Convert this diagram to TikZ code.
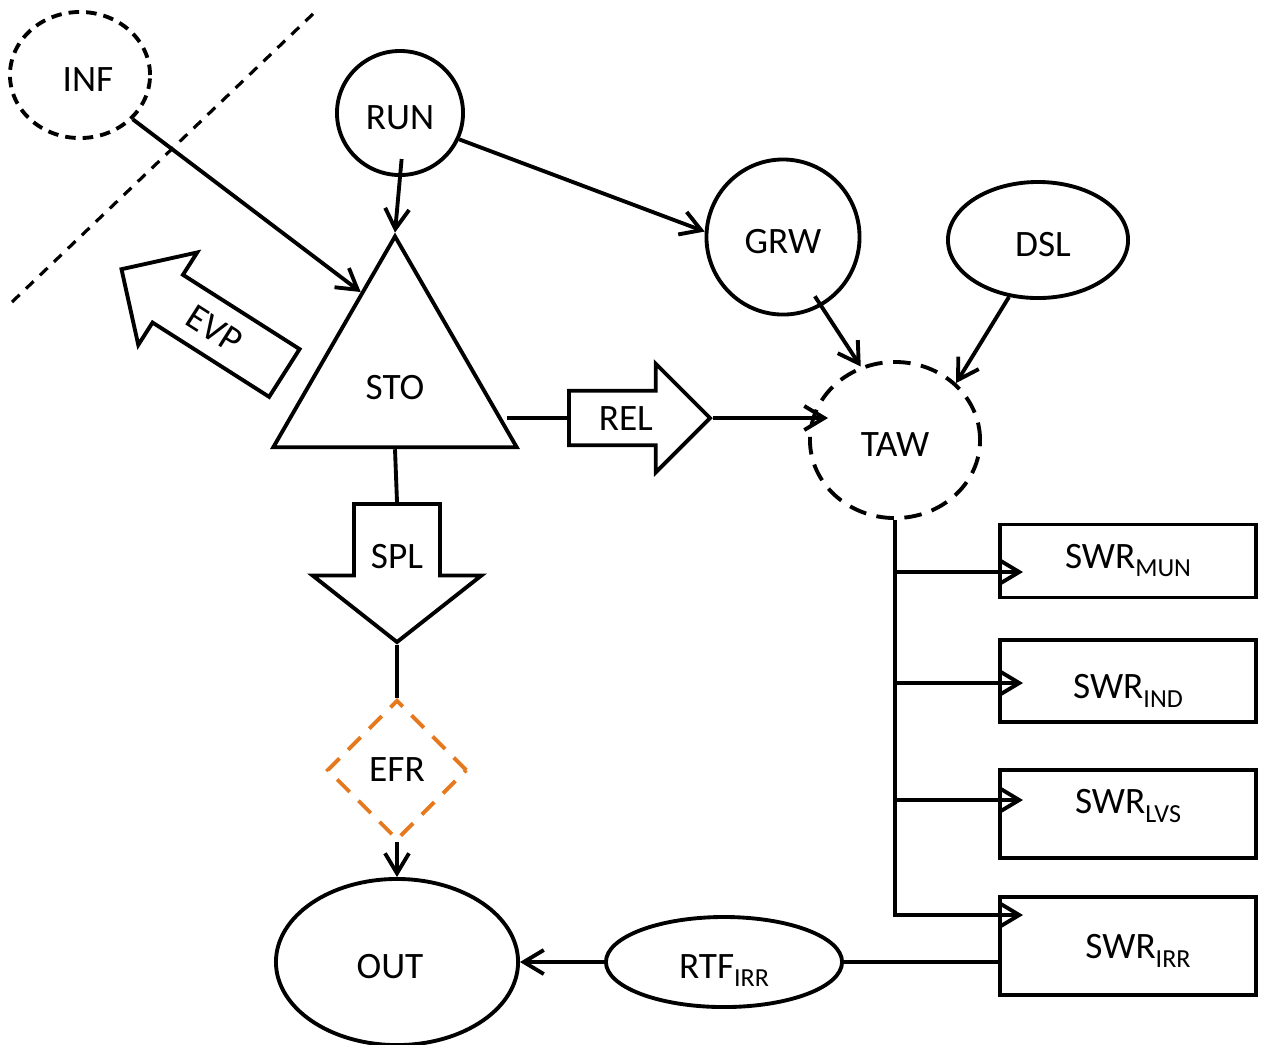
\documentclass[tikz,border=0pt]{standalone}
\usepackage{fontspec}
\setmainfont{Carlito}
\usepackage{xcolor}
\usepackage{tikz}
\usetikzlibrary{calc,arrows.meta,shapes.geometric,shapes.arrows}
\definecolor{efrOrange}{RGB}{230,120,30}
\newcommand{\lowsub}[1]{\raisebox{-2.3pt}{\fontsize{7.4}{8}\selectfont #1}}
\tikzset{
  every node/.style={font=\fontsize{10.6}{12}\selectfont},
  stock/.style={draw, ellipse, line width=1.1pt, inner sep=0pt, text height=9.6pt, text depth=0pt},
  fuzzy/.style={stock, dash pattern=on 5pt off 3pt},
  sink/.style={draw, rectangle, line width=1.1pt, minimum width=2.56cm, text height=6.8pt, text depth=0pt},
  blockarrow/.style={draw, single arrow, line width=1.1pt, inner xsep=1pt, text height=7pt, text depth=0pt},
  flow/.style={line width=1.1pt, -{Straight Barb[length=2mm,width=2.4mm]}},
  link/.style={line width=1.1pt}
}

\begin{document}
\begin{tikzpicture}[x=0.01cm,y=-0.01cm]
\useasboundingbox (0,0) rectangle (1261,1044);
\draw[line width=0.9pt, dash pattern=on 3pt off 2.5pt] (12,302) -- (315,12);
\node[fuzzy, dash pattern=on 3pt off 2pt, minimum width=1.4cm, minimum height=1.26cm] (inf) at (80,75) {\hspace*{0.16cm}INF};
\node[stock, minimum width=1.26cm, minimum height=1.24cm] (run) at (400,113) {RUN};
\node[stock, minimum width=1.53cm, minimum height=1.55cm] (grw) at (783,237) {GRW};
\node[stock, minimum width=1.8cm, minimum height=1.16cm] (dsl) at (1038,240) {\hspace*{0.1cm}DSL};
\node[fuzzy, minimum width=1.7cm, minimum height=1.56cm] (taw) at (895,440) {TAW};
\node[draw, regular polygon, regular polygon sides=3, minimum size=2.81cm, line width=1.1pt, inner sep=0pt, text height=13pt, text depth=0pt] (sto) at (395,377) {STO};
\node[blockarrow, anchor=tail, rotate=-32.5, shape border rotate=180, inner xsep=0.2cm, inner ysep=4pt, minimum height=1.93cm, minimum width=1.06cm, single arrow head extend=0.265cm] (evp) at (286,374) {EVP};
\node[blockarrow, anchor=tail, inner ysep=3.7pt, minimum height=1.41cm, minimum width=1.05cm, single arrow head extend=0.27cm] (rel) at (567,418) {REL};
\node[blockarrow, anchor=tail, shape border rotate=270, text width=0.82cm, align=center, inner xsep=0pt, minimum height=1.38cm, minimum width=1.65cm, single arrow head extend=0.415cm, single arrow tip angle=103.5] (spl) at (397,502) {SPL};
\node[diamond, draw=efrOrange, line width=1.1pt, dash pattern=on 5pt off 3.5pt, minimum width=1.4cm, minimum height=1.4cm, inner sep=0pt] (efr) at (397,770) {EFR};
\node[stock, minimum width=2.42cm, minimum height=1.66cm] (out) at (397,962) {OUT\hspace*{0.14cm}};
\node[stock, minimum width=2.36cm, minimum height=0.9cm] (rtf) at (724,962) {RTF\lowsub{IRR}};
% water users
\node[sink, minimum height=0.73cm] (mun) at (1128,561) {\raisebox{0.045cm}{SWR\lowsub{MUN}}};
\node[sink, minimum height=0.82cm] (ind) at (1128,681) {\raisebox{-0.06cm}{SWR\lowsub{IND}}};
\node[sink, minimum height=0.88cm] (lvs) at (1128,814) {\raisebox{0.12cm}{SWR\lowsub{LVS}}};
\node[sink, minimum height=0.98cm] (irr) at (1128,946) {\hspace*{0.2cm}\raisebox{-0.01cm}{SWR\lowsub{IRR}}};
\coordinate (tap1) at (895,572);
\coordinate (tap2) at (895,683);
\coordinate (tap3) at (895,800);
\coordinate (tap4) at (895,915);
% connectors
\draw[flow] (inf.-40) -- (sto.112);
\draw[flow, shorten <=-0.18cm] (run.south) -- (sto.corner 1);
\draw[flow] (run.-24) -- (grw.176);
\draw[flow, shorten <=-0.12cm] (grw.-61) -- (taw.115);
\draw[flow] (dsl.-117) -- (taw.43);
\draw[link] (rel.tail) -- ++(-60,0);
\draw[flow, shorten >=-0.2cm] (rel.tip) -- (rel.tip -| taw.west);
\draw[link] (sto.side 2) -- (spl.tail);
\draw[link] (spl.tip) -- (efr.north);
\draw[flow] (efr.south) -- (out.north);
\draw[flow, shorten >=-0.25cm] (taw.south) |- (tap4 -| irr.west);
\draw[flow, shorten >=-0.25cm] (tap1) -- (tap1 -| mun.west);
\draw[flow, shorten >=-0.25cm] (tap2) -- (tap2 -| ind.west);
\draw[flow, shorten >=-0.25cm] (tap3) -- (tap3 -| lvs.west);
\draw[link] (irr.west |- rtf.east) -- (rtf.east);
\draw[flow] (rtf.west) -- (out.east);
\end{tikzpicture}
\end{document}
